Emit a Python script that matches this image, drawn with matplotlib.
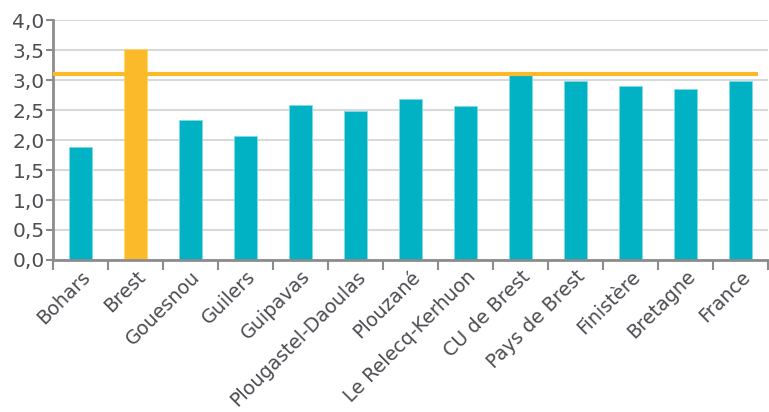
import numpy as np
import matplotlib
matplotlib.use("Agg")
import matplotlib.pyplot as plt
from matplotlib.ticker import FixedLocator, FuncFormatter
from matplotlib.transforms import ScaledTranslation

communes = ["Bohars", "Brest", "Gouesnou", "Guilers", "Guipavas",
            "Plougastel-Daoulas", "Plouzané", "Le Relecq-Kerhuon",
            "CU de Brest", "Pays de Brest", "Finistère", "Bretagne", "France"]
valeurs = [1.88, 3.52, 2.34, 2.06, 2.58, 2.48, 2.69, 2.57, 3.08, 2.98, 2.90, 2.86, 2.98]
reference = 3.11
highlight = "Brest"

teal = "#00b2c3"
orange = "#fbba2a"
grey_text = "#4d4d52"

plt.rcParams['font.family'] = ['DejaVu Sans']

fig = plt.figure(figsize=(7.69, 4.12), dpi=100)
ax = fig.add_axes([0.069, 0.369, 0.93, 0.582])

x = np.arange(len(communes))
colors = [orange if c == highlight else teal for c in communes]
edges = ["#ffd66e" if c == highlight else "#7fdde6" for c in communes]
ax.bar(x, valeurs, width=0.41, color=colors, edgecolor=edges, linewidth=0.6, zorder=3)

# ligne de référence
ax.hlines(reference, -0.55, len(communes) - 0.68, color=orange, linewidth=3, zorder=4)

ax.set_xlim(-0.5, len(communes) - 0.5)
ax.set_ylim(0, 4.0)
ax.set_yticks(np.arange(0, 4.01, 0.5))
ax.yaxis.set_major_formatter(FuncFormatter(lambda v, p: f"{v:.1f}".replace(".", ",")))
ax.grid(axis="y", color="#d9d9d9", linewidth=1.5, zorder=0)

ax.set_xticks(x)
ax.set_xticklabels(communes, rotation=45, ha="right", rotation_mode="anchor")
shift = ScaledTranslation(6 / 100, 0, fig.dpi_scale_trans)
for lab in ax.get_xticklabels():
    lab.set_transform(lab.get_transform() + shift)
ax.xaxis.set_minor_locator(FixedLocator(np.arange(-0.5, len(communes), 1)))
ax.tick_params(axis="x", which="major", length=0, pad=5, labelsize=13.8, labelcolor=grey_text)
ax.tick_params(axis="x", which="minor", length=7, width=1.5, color="#8c8c8c")
ax.tick_params(axis="y", length=5, width=1.5, color="#8c8c8c", labelsize=14.5,
               labelcolor=grey_text, pad=1)

for side in ["top", "right"]:
    ax.spines[side].set_visible(False)
for side in ["left", "bottom"]:
    ax.spines[side].set_color("#8c8c8c")
    ax.spines[side].set_linewidth(2)
ax.spines["bottom"].set_zorder(5)

fig.savefig("out.png", dpi=100)
